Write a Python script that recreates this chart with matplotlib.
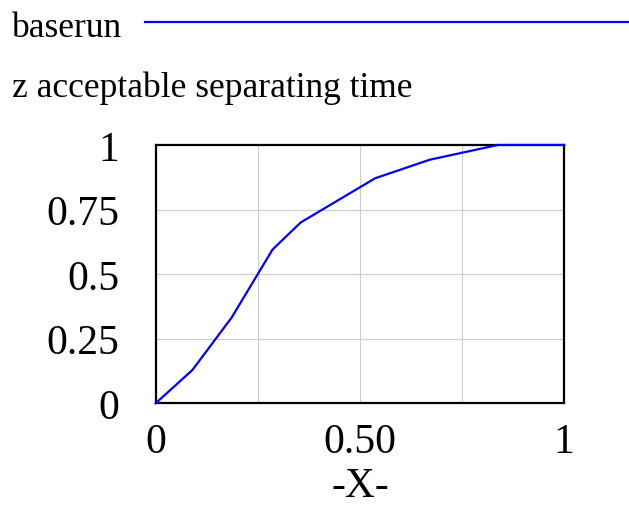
import matplotlib

matplotlib.use("Agg")
import matplotlib.pyplot as plt
from matplotlib.lines import Line2D

# lookup table "z acceptable separating time" (baserun)
x_vals = [0.0, 0.09, 0.186, 0.286, 0.355, 0.537, 0.671, 0.838, 1.0]
y_vals = [0.0, 0.129, 0.332, 0.595, 0.70, 0.871, 0.943, 1.0, 1.0]

x_ticks = [0, 0.5, 1]
x_ticklabels = ["0", "0.50", "1"]
x_minor = [0.25, 0.75]
y_ticks = [0, 0.25, 0.5, 0.75, 1]
y_ticklabels = ["0", "0.25", "0.5", "0.75", "1"]

run_name = "baserun"
var_name = "z acceptable separating time"
x_label = "-X-"

plt.rcParams["font.family"] = ["Liberation Serif", "DejaVu Serif"]
FS_TICK = 30
FS_HEAD = 25.5
BLUE = "#0000ff"

fig = plt.figure(figsize=(6.29, 5.06), dpi=100)
ax = fig.add_axes([0.2475, 0.201, 0.6495, 0.5105])

ax.plot(x_vals, y_vals, color=BLUE, lw=1.6, clip_on=False, zorder=3)

ax.set_xlim(0, 1)
ax.set_ylim(0, 1)
ax.set_xticks(x_ticks)
ax.set_xticklabels(x_ticklabels)
ax.set_xticks(x_minor, minor=True)
ax.set_yticks(y_ticks)
ax.set_yticklabels(y_ticklabels)
ax.tick_params(axis="both", which="both", length=0, labelsize=FS_TICK)
ax.tick_params(axis="x", pad=14)
ax.tick_params(axis="y", pad=26)
ax.grid(True, which="both", color="#cccccc", lw=0.8)
ax.set_axisbelow(True)
for sp in ax.spines.values():
    sp.set_linewidth(1.6)
    sp.set_color("black")

ax.set_xlabel(x_label, fontsize=FS_TICK, labelpad=4)

# header: run legend and variable name
fig.text(12 / 629, 1 - 37 / 506, run_name, fontsize=FS_HEAD, ha="left", va="baseline")
fig.add_artist(Line2D([145 / 629, 1.0], [1 - 23 / 506, 1 - 23 / 506],
                      transform=fig.transFigure, color=BLUE, lw=1.6))
fig.text(12 / 629, 1 - 97 / 506, var_name, fontsize=FS_HEAD, ha="left", va="baseline")

fig.savefig("out.png", dpi=100)
plt.close(fig)
